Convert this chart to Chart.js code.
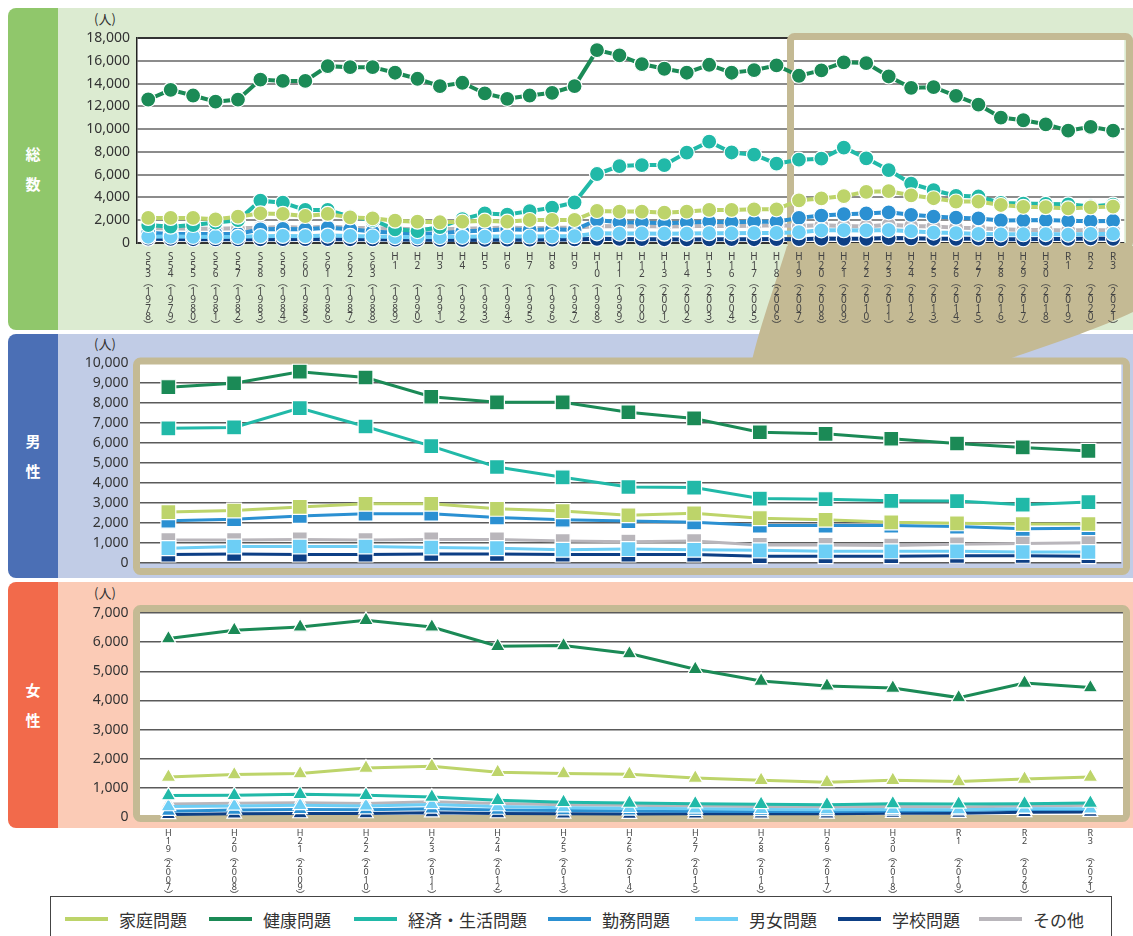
<!DOCTYPE html>
<html>
<head>
<meta charset="utf-8">
<script src="https://cdn.jsdelivr.net/npm/chart.js"></script>
<style>
  body { margin:0; width:1133px; height:936px; position:relative; overflow:hidden; background:#fff;
         font-family:"Noto Sans","Noto Sans CJK JP",sans-serif; }
  .abs { position:absolute; }
  .tab { position:absolute; left:8px; width:50px; border-radius:8px 0 0 8px; color:#fff; font-weight:bold;
         font-size:15px; font-family:"Noto Sans CJK JP",sans-serif; display:flex; flex-direction:column;
         align-items:center; justify-content:center; line-height:30px; }
  .unit { position:absolute; left:94px; font-size:13px; color:#333; font-family:"Noto Sans CJK JP",sans-serif; }
  canvas { position:absolute; left:58px; }
  #legend { position:absolute; left:50px; top:896px; width:1062px; height:50px; border:1px solid #444; box-sizing:border-box; }
  .li { position:absolute; top:10px; height:24px; display:flex; align-items:center; font-size:17px; color:#333;
        font-family:"Noto Sans CJK JP",sans-serif; }
  .li span { display:inline-block; width:43px; height:4px; margin-right:11px; }
</style>
</head>
<body>
<div class="abs" style="left:58px;top:8px;width:1075px;height:322px;background:#dcebd1"></div>
<div class="tab" style="top:8px;height:322px;background:#90c76b">総<br>数</div>
<div class="abs" style="left:58px;top:334px;width:1075px;height:244px;background:#c1cce6"></div>
<div class="tab" style="top:334px;height:244px;background:#4b6fb5">男<br>性</div>
<div class="abs" style="left:58px;top:582px;width:1075px;height:246px;background:#fbcbb6"></div>
<div class="tab" style="top:582px;height:246px;background:#f26a4b">女<br>性</div>

<svg class="abs" style="left:0;top:0" width="1133" height="936">
  <path d="M787,246 L1133,246 L1133,312 C1100,328 1050,345 1005,360 L752,360 C762,320 775,285 787,246 Z" fill="#c4ba94"/>
</svg>

<div class="unit" style="top:9px">(人)</div>
<div class="unit" style="top:334px">(人)</div>
<div class="unit" style="top:583px">(人)</div>

<canvas id="cTop" width="1075" height="325" style="top:8px"></canvas>
<canvas id="cMale" width="1075" height="245" style="top:333px"></canvas>
<canvas id="cFemale" width="1075" height="313" style="top:582px"></canvas>

<div id="legend">
  <div class="li" style="left:14px"><span style="background:#bdd46a"></span>家庭問題</div>
  <div class="li" style="left:158px"><span style="background:#1b8a56"></span>健康問題</div>
  <div class="li" style="left:303px"><span style="background:#21b9a8"></span>経済・生活問題</div>
  <div class="li" style="left:497px"><span style="background:#2b90d2"></span>勤務問題</div>
  <div class="li" style="left:644px"><span style="background:#6dcef5"></span>男女問題</div>
  <div class="li" style="left:787px"><span style="background:#0d3f85"></span>学校問題</div>
  <div class="li" style="left:928px"><span style="background:#b9b6bb"></span>その他</div>
</div>

<script>
// categories
var topCats = ['S53','S54','S55','S56','S57','S58','S59','S60','S61','S62','S63',
  'H1','H2','H3','H4','H5','H6','H7','H8','H9','H10','H11','H12','H13','H14','H15','H16','H17','H18',
  'H19','H20','H21','H22','H23','H24','H25','H26','H27','H28','H29','H30','R1','R2','R3'];
var topYears = [1978,1979,1980,1981,1982,1983,1984,1985,1986,1987,1988,
  1989,1990,1991,1992,1993,1994,1995,1996,1997,1998,1999,2000,2001,2002,2003,2004,2005,2006,
  2007,2008,2009,2010,2011,2012,2013,2014,2015,2016,2017,2018,2019,2020,2021];
var subCats = ['H19','H20','H21','H22','H23','H24','H25','H26','H27','H28','H29','H30','R1','R2','R3'];
var subYears = [2007,2008,2009,2010,2011,2012,2013,2014,2015,2016,2017,2018,2019,2020,2021];

var seriesNames = ['家庭問題','健康問題','経済・生活問題','勤務問題','男女問題','学校問題','その他'];

// 総数
var totFamily = [2200,2200,2200,2080,2310,2600,2550,2370,2550,2250,2170,
  1960,1870,1820,1870,1960,1870,2020,2020,2020,2810,2760,2760,2660,2760,2900,2900,2960,2960,
  3751,3912,4117,4497,4547,4187,3930,3644,3641,3337,3179,3147,3039,3128,3200];
var totHealth = [12600,13450,12950,12410,12590,14350,14230,14230,15530,15440,15440,
  14950,14420,13770,14070,13130,12660,12950,13190,13770,16940,16480,15710,15300,14950,15650,14950,15180,15590,
  14684,15153,15867,15802,14621,13629,13680,12920,12145,11014,10778,10423,9861,10195,9860];
var totEcon = [1580,1430,1580,1800,2000,3715,3540,2900,2900,2310,2020,
  1200,1050,1400,2100,2600,2500,2800,3100,3556,6058,6758,6838,6845,7940,8897,7947,7756,6969,
  7318,7404,8377,7438,6406,5219,4636,4144,4082,3522,3464,3432,3395,3216,3376];
var totWork = [900,800,800,800,800,1200,1240,1200,1340,1200,1000,
  900,800,850,1000,1100,1200,1150,1200,1150,2020,1820,1800,1730,1800,1870,1820,1870,1870,
  2207,2412,2528,2590,2689,2472,2323,2227,2159,1978,1991,2018,1949,1918,1935];
var totLove = [550,560,540,530,540,600,620,600,650,620,580,
  520,500,520,540,560,580,570,590,600,850,830,840,820,830,860,850,870,880,
  949,1115,1121,1103,1138,1035,912,875,801,764,768,781,736,800,797];
var totSchool = [380,360,330,320,320,330,340,350,340,330,320,
  300,290,280,270,280,290,290,300,310,370,360,340,330,310,320,340,330,350,
  338,387,364,371,429,417,375,372,384,319,329,354,355,405,370];
var totOther = [1300,1300,1250,1250,1300,1350,1400,1350,1450,1350,1300,
  1250,1200,1200,1250,1300,1350,1300,1350,1350,1500,1480,1500,1450,1480,1520,1500,1520,1550,
  1500,1550,1500,1450,1600,1500,1450,1350,1300,1200,1150,1150,1100,1150,1100];

// 男性
var mFamily = [2530,2612,2790,2950,2950,2693,2580,2370,2467,2225,2145,2016,1968,1935,1935];
var mHealth = [8790,8985,9565,9275,8307,8030,8030,7533,7223,6531,6450,6207,5965,5772,5597];
var mEcon   = [6725,6773,7740,6821,5838,4790,4273,3790,3758,3207,3178,3096,3080,2903,3033];
var mWork   = [2095,2177,2337,2450,2450,2258,2145,2080,2016,1854,1854,1854,1805,1693,1725];
var mLove   = [725,806,806,806,758,725,645,677,645,613,564,564,564,532,532];
var mSchool = [403,435,403,403,435,435,403,403,403,322,322,322,340,340,322];
var mOther  = [1129,1129,1160,1129,1160,1160,1080,1048,1080,887,887,855,920,960,1000];

// 女性
var fFamily = [1373,1455,1489,1682,1740,1534,1489,1465,1338,1259,1191,1259,1214,1304,1373];
var fHealth = [6122,6407,6521,6750,6521,5858,5881,5607,5069,4667,4496,4427,4097,4598,4440];
var fEcon   = [734,745,779,745,686,573,504,481,458,436,424,458,447,458,481];
var fWork   = [200,240,260,250,280,240,220,210,200,190,190,210,220,270,260];
var fLove   = [360,380,400,380,430,360,320,300,280,260,250,260,250,280,280];
var fSchool = [90,110,120,120,150,120,110,100,110,110,110,130,130,160,170];
var fOther  = [450,470,490,460,520,460,420,400,380,360,350,360,340,380,400];

var colors = ['#bdd46a','#1b8a56','#21b9a8','#2b90d2','#6dcef5','#0d3f85','#b9b6bb'];
var drawOrder = [1,2,3,5,4,6,7];
var TAN = '#c4ba94';

function vLabel(cat, year) {
  var num = cat.slice(1).split('');
  while (num.length < 2) num.push('');
  return [cat[0]].concat(num, ['︵'], String(year).split(''), ['︶']);
}

function plotBg(frame) {
  return {
    id: 'plotBg',
    beforeDraw: function(chart) {
      var a = chart.chartArea, ctx = chart.ctx;
      ctx.save();
      ctx.fillStyle = '#fff';
      ctx.fillRect(a.left, a.top, a.right - a.left, a.bottom - a.top);
      ctx.restore();
    },
    beforeDatasetsDraw: function(chart) {
      var ctx = chart.ctx;
      ctx.save();
      ctx.strokeStyle = TAN;
      ctx.lineWidth = 7;
      ctx.beginPath();
      ctx.roundRect(frame[0], frame[1], frame[2], frame[3], 4);
      ctx.stroke();
      ctx.restore();
    }
  };
}

function build(id, cats, years, series, o) {
  var ds = series.map(function(d, i) {
    return {
      label: seriesNames[i], data: d, order: drawOrder[i],
      borderColor: colors[i], backgroundColor: colors[i],
      borderWidth: o.lw, pointStyle: o.ps, pointRadius: o.pr,
      pointBorderColor: '#fff', pointBorderWidth: 1.2,
      tension: 0, clip: false
    };
  });
  return new Chart(document.getElementById(id), {
    type: 'line',
    data: { labels: cats.map(function(c, i) { return vLabel(c, years[i]); }), datasets: ds },
    plugins: [plotBg(o.frame)],
    options: {
      responsive: false, animation: false,
      layout: { padding: { top: o.padTop, right: o.padRight, left: 0, bottom: 0 } },
      plugins: { legend: { display: false }, tooltip: { enabled: false } },
      scales: {
        x: {
          offset: true,
          grid: { display: false, offset: true }, border: { display: false },
          ticks: { display: o.showX, autoSkip: false, maxRotation: 0, minRotation: 0, padding: o.xPad, color: '#444',
                   font: { size: o.xSize, lineHeight: o.xLine, family: '"Noto Sans","Noto Sans CJK JP",sans-serif' } },
          afterFit: function(s) { s.height = o.xH; }
        },
        y: {
          min: 0, max: o.max,
          ticks: { stepSize: o.step, autoSkip: false, padding: 7, color: '#333', font: { size: 14, family: '"Noto Sans",sans-serif' } },
          grid: { drawTicks: false, color: o.gridColor, lineWidth: o.gridW },
          border: { display: o.yBorder, color: '#222', width: 1.5 },
          afterFit: function(s) { s.width = o.yW; }
        }
      }
    }
  });
}

build('cTop', topCats, topYears,
  [totFamily, totHealth, totEcon, totWork, totLove, totSchool, totOther],
  { lw: 4, ps: 'circle', pr: 7.5, max: 18000, step: 2000, padTop: 30, padRight: 5, yW: 79, xH: 90,
    showX: true, xPad: 2, xSize: 10, xLine: '8.6px', yBorder: true, gridW: 2,
    gridColor: function(c) { return (c.tick && (c.tick.value === 18000 || c.tick.value === 0)) ? '#333' : '#8c8c8c'; },
    frame: [732.5, 28.5, 339, 210] });

build('cMale', subCats, subYears,
  [mFamily, mHealth, mEcon, mWork, mLove, mSchool, mOther],
  { lw: 3, ps: 'rect', pr: 10.5, max: 10000, step: 1000, padTop: 30, padRight: 6, yW: 77.5, xH: 8,
    showX: false, xPad: 0, xSize: 10, xLine: '8px', yBorder: false, gridW: 1.5,
    gridColor: '#5a5a5a', frame: [78.5, 28, 990, 210.5] });

build('cFemale', subCats, subYears,
  [fFamily, fHealth, fEcon, fWork, fLove, fSchool, fOther],
  { lw: 3, ps: 'triangle', pr: 8.5, max: 7000, step: 1000, padTop: 31, padRight: 6, yW: 77.5, xH: 78,
    showX: true, xPad: 5, xSize: 9, xLine: '7.7px', yBorder: false, gridW: 1.5,
    gridColor: '#5a5a5a', frame: [78.5, 26.5, 990, 210] });
</script>
</body>
</html>
